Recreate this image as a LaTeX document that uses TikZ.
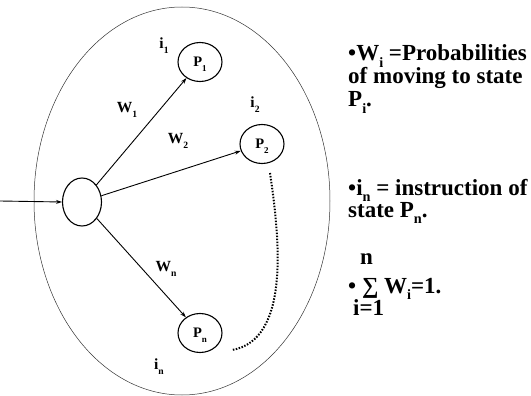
\documentclass[tikz,border=0pt]{standalone}
\usepackage{fontspec}
\setmainfont{Liberation Serif}
\usetikzlibrary{shapes.geometric,arrows.meta}
\newcommand\sbs[1]{\raisebox{-0.3em}[0pt][0pt]{\scalebox{0.62}{#1}}}
\tikzset{
  state/.style={draw, ellipse, line width=1.1pt, minimum width=44pt, minimum height=39pt, inner sep=0pt, font=\bfseries\fontsize{14.5}{16}\selectfont},
  lab/.style={font=\bfseries\fontsize{15.5}{17}\selectfont, inner sep=0pt},
  txt/.style={font=\bfseries\fontsize{23}{25}\selectfont, anchor=base west, inner sep=0pt},
  conn/.style={line width=0.9pt, -{Stealth[length=6pt,width=4pt]}}
}
\begin{document}
\begin{tikzpicture}[x=1pt,y=-1pt]
\useasboundingbox (0,0) rectangle (531,396);
\node[draw, ellipse, line width=0.5pt, draw=black!80, minimum width=296pt, minimum height=388pt, inner sep=0pt] (outer) at (182,201) {};
\node[draw, ellipse, line width=1.1pt, minimum width=39pt, minimum height=48pt, inner sep=0pt] (c) at (82,202) {};
\node[state] (p1) at (200,62) {P\sbs{1}};
\node[state] (p2) at (262,144) {P\sbs{2}};
\node[state] (pn) at (200,333) {P\sbs{n}};
\coordinate (in) at (0,201);
\draw[conn] (in) -- (c.west);
\draw[conn] (c) -- (p1);
\draw[conn] (c) -- (p2);
\draw[conn] (c) -- (pn);
\coordinate (d1) at (270,173);
\coordinate (d2) at (232,350);
\draw[line width=2pt, dash pattern=on 1.5pt off 1.5pt] (d1) .. controls (280,240) and (290,340) .. (d2);
\node[lab] (li1) at (164,43) {i\sbs{1}};
\node[lab] (lw1) at (127,108) {W\sbs{1}};
\node[lab] (li2) at (255,102) {i\sbs{2}};
\node[lab] (lw2) at (178,139) {W\sbs{2}};
\node[lab] (lwn) at (166,267) {W\sbs{n}};
\node[lab] (lin) at (159,364) {i\sbs{n}};
\node[txt] (t1) at (348,61) {•W\sbs{i} =Probabilities};
\node[txt] (t2) at (348,84) {of moving to state};
\node[txt] (t3) at (348,107) {P\sbs{i}.};
\node[txt] (t4) at (348,195) {•i\sbs{n} = instruction of};
\node[txt] (t5) at (348,217) {state P\sbs{n}.};
\node[txt] (t6) at (360,264) {n};
\node[txt] (t7) at (348,293) {• ∑ W\sbs{i}=1.};
\node[txt] (t8) at (353,315) {i=1};
\end{tikzpicture}
\end{document}
